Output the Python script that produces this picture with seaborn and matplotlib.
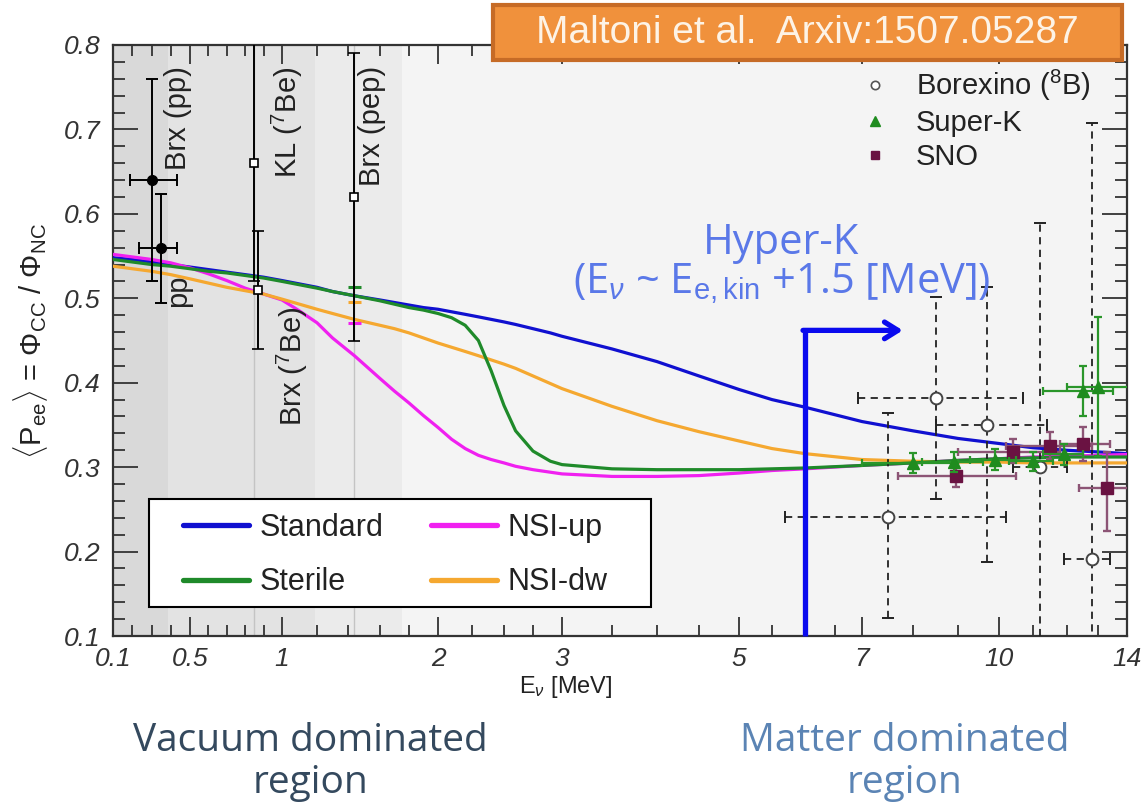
import numpy as np
import pandas as pd
import matplotlib
matplotlib.use("Agg")
import matplotlib.pyplot as plt
import seaborn as sns
from matplotlib.lines import Line2D
from matplotlib.patches import Rectangle

# ---------------- theory curves: <Pee> versus neutrino energy ----------------
energy = [0.1, 0.2, 0.3, 0.4, 0.5, 0.6, 0.7, 0.8, 0.9, 1.0, 1.1, 1.2, 1.3, 1.44,
          1.6, 1.7, 1.8, 1.9, 2.0, 2.1, 2.2, 2.3, 2.4, 2.5, 2.6, 2.75, 2.9, 3.0,
          3.5, 4.0, 4.5, 5.0, 5.5, 6.0, 7.0, 8.0, 9.0, 10.0, 11.0, 12.0, 13.0, 14.0]
p_standard = [0.548, 0.546, 0.543, 0.540, 0.537, 0.534, 0.531, 0.528, 0.525, 0.521,
              0.517, 0.513, 0.508, 0.503, 0.498, 0.495, 0.492, 0.489, 0.487, 0.484,
              0.481, 0.478, 0.475, 0.472, 0.469, 0.464, 0.459, 0.455, 0.440, 0.425,
              0.408, 0.392, 0.380, 0.371, 0.354, 0.343, 0.334, 0.328, 0.323, 0.320,
              0.318, 0.316]
p_sterile = [0.546, 0.543, 0.540, 0.538, 0.535, 0.532, 0.530, 0.527, 0.524, 0.520,
             0.516, 0.512, 0.508, 0.503, 0.497, 0.493, 0.489, 0.486, 0.482, 0.477,
             0.468, 0.450, 0.414, 0.373, 0.343, 0.319, 0.307, 0.303, 0.298, 0.297,
             0.297, 0.297, 0.298, 0.299, 0.302, 0.305, 0.308, 0.310, 0.311, 0.312,
             0.312, 0.312]
p_nsi_up = [0.552, 0.549, 0.546, 0.542, 0.536, 0.529, 0.521, 0.512, 0.505, 0.498,
            0.485, 0.471, 0.453, 0.432, 0.405, 0.390, 0.376, 0.361, 0.347, 0.333,
            0.322, 0.314, 0.309, 0.305, 0.301, 0.297, 0.294, 0.292, 0.289, 0.289,
            0.290, 0.293, 0.296, 0.298, 0.302, 0.305, 0.308, 0.310, 0.312, 0.313,
            0.314, 0.315]
p_nsi_dw = [0.538, 0.535, 0.532, 0.528, 0.523, 0.518, 0.513, 0.509, 0.505, 0.499,
            0.493, 0.487, 0.482, 0.475, 0.468, 0.464, 0.459, 0.453, 0.447, 0.442,
            0.437, 0.432, 0.427, 0.422, 0.417, 0.408, 0.399, 0.393, 0.372, 0.355,
            0.342, 0.331, 0.322, 0.316, 0.309, 0.307, 0.306, 0.306, 0.305, 0.305,
            0.305, 0.305]

model_names = ["Standard", "NSI-up", "NSI-dw", "Sterile"]
model_colors = {"Standard": "#1010d0", "Sterile": "#1f8a2a",
                "NSI-up": "#f020f0", "NSI-dw": "#f5a830"}

# curve averages over the pep line
pep_avg_models = ["Sterile", "NSI-dw", "NSI-up"]
pep_avg_values = [0.513, 0.496, 0.471]

# ---------------- low-energy measurements ----------------
pp_E = [0.30, 0.35]
pp_P = [0.64, 0.56]
pp_E_lo = [0.19, 0.235]
pp_E_hi = [0.43, 0.43]
pp_P_lo = [0.52, 0.495]
pp_P_hi = [0.76, 0.624]

be7_E = [0.85, 0.87]          # KamLAND, Borexino
be7_P = [0.66, 0.51]
be7_P_lo = [0.52, 0.44]
be7_P_hi = [0.86, 0.58]

pep_E = [1.44]
pep_P = [0.62]
pep_P_lo = [0.45]
pep_P_hi = [0.79]

# ---------------- 8B measurements ----------------
brx_E = [7.5, 8.5, 9.7, 11.2, 12.8]
brx_P = [0.241, 0.382, 0.350, 0.300, 0.191]
brx_E_lo = [5.7, 6.93, 8.5, 10.4, 11.9]
brx_E_hi = [10.2, 10.7, 11.4, 12.0, 13.4]
brx_P_lo = [0.121, 0.262, 0.188, 0.010, 0.000]
brx_P_hi = [0.364, 0.502, 0.513, 0.589, 0.708]

sk_E = [8.0, 8.9, 9.9, 11.0, 11.9, 12.5, 13.0]
sk_P = [0.305, 0.306, 0.309, 0.307, 0.315, 0.390, 0.395]
sk_E_lo = [7.0, 8.2, 9.3, 10.3, 11.3, 11.3, 12.0]
sk_E_hi = [9.0, 9.6, 10.5, 11.6, 12.5, 13.5, 14.5]
sk_P_lo = [0.293, 0.294, 0.297, 0.296, 0.303, 0.360, 0.313]
sk_P_hi = [0.317, 0.318, 0.321, 0.318, 0.327, 0.420, 0.478]

sno_E = [8.95, 10.4, 11.5, 12.5, 13.3]
sno_P = [0.290, 0.318, 0.325, 0.327, 0.275]
sno_E_lo = [7.7, 9.0, 10.2, 11.8, 12.4]
sno_E_hi = [10.5, 11.8, 12.8, 13.4, 14.5]
sno_P_lo = [0.277, 0.305, 0.310, 0.307, 0.224]
sno_P_hi = [0.306, 0.333, 0.342, 0.347, 0.318]

hyperk_threshold = 6.0
hyperk_arrow_level = 0.462
hyperk_arrow_end = 7.8

# energy bands of the low-energy sources
band_edges = [0.1, 0.386, 1.19, 1.75]
band_colors = ["#d9d9d9", "#e3e3e3", "#ebebeb"]

# ---------------- energy axis: compressed non-uniform scale ----------------
_knot_E = np.array([-10.0, 0.1, 0.5, 1.0, 1.2, 1.4, 1.6, 1.8, 2.0, 2.25, 2.5, 2.75,
                    3.0, 3.5, 4.0, 4.5, 5.0, 5.5, 6.0, 6.5, 7.0, 8.0, 9.0, 10.0,
                    11.0, 12.0, 13.0, 14.0, 40.0])
_knot_u = np.array([113 - 10.1 * 192.5, 113, 190, 282, 317, 348, 380, 409, 438, 472,
                    504, 533, 562, 612, 657, 699, 739, 772, 805, 835, 862, 913,
                    958, 999, 1033, 1067, 1098, 1127, 1127 + 26 * 29.0])


def _fwd(e):
    return np.interp(np.asarray(e, dtype=float), _knot_E, _knot_u)


def _inv(u):
    return np.interp(np.asarray(u, dtype=float), _knot_u, _knot_E)


sns.set_theme(style="ticks")
plt.rcParams["font.family"] = ["Liberation Sans", "DejaVu Sans"]
plt.rcParams["mathtext.fontset"] = "custom"
plt.rcParams["mathtext.rm"] = "Liberation Sans"
plt.rcParams["mathtext.it"] = "Liberation Sans:italic"
plt.rcParams["mathtext.bf"] = "Liberation Sans:bold"

W, H = 1144, 809
fig = plt.figure(figsize=(W / 100, H / 100), dpi=100)
fig.patch.set_facecolor("white")
ax = fig.add_axes([113 / W, 1 - 636 / H, 1014 / W, 591 / H])
ax.set_xscale("function", functions=(_fwd, _inv))
ax.set_xlim(0.1, 14)
ax.set_ylim(0.1, 0.8)
ax.set_facecolor("#f4f4f4")

# source bands and reference lines
for lo, hi, c in zip(band_edges[:-1], band_edges[1:], band_colors):
    ax.axvspan(lo, hi, color=c, lw=0, zorder=0)
for e in [be7_E[0], pep_E[0]]:
    ax.axvline(e, color="#c4c4c4", lw=1.0, zorder=0.5)

# theory curves
df = pd.DataFrame({
    "E": energy * 4,
    "Pee": p_standard + p_nsi_up + p_nsi_dw + p_sterile,
    "model": sum([[m] * len(energy) for m in model_names], []),
})
sns.lineplot(data=df, x="E", y="Pee", hue="model", hue_order=model_names,
             palette=model_colors, linewidth=2.3, sort=False, estimator=None,
             legend=False, ax=ax, zorder=3)

for m, v in zip(pep_avg_models, pep_avg_values):
    ax.hlines(v, 1.40, 1.48, color=model_colors[m], lw=2.2, zorder=3.5)


def _err(c, lo, hi):
    c = np.asarray(c)
    return [c - np.asarray(lo), np.asarray(hi) - c]


# pp (filled), 7Be and pep (open squares)
ax.errorbar(pp_E, pp_P, xerr=_err(pp_E, pp_E_lo, pp_E_hi),
            yerr=_err(pp_P, pp_P_lo, pp_P_hi), fmt="o", color="black",
            ms=7, elinewidth=1.4, capsize=4, capthick=1.4, zorder=5)
ax.errorbar(be7_E, be7_P, yerr=_err(be7_P, be7_P_lo, be7_P_hi), fmt="s",
            mfc="white", mec="black", ecolor="black", ms=6, mew=1.2,
            elinewidth=1.4, capsize=4, capthick=1.4, zorder=5)
ax.errorbar(pep_E, pep_P, yerr=_err(pep_P, pep_P_lo, pep_P_hi), fmt="s",
            mfc="white", mec="black", ecolor="black", ms=6, mew=1.2,
            elinewidth=1.4, capsize=4, capthick=1.4, zorder=5)

# 8B data
brx = ax.errorbar(brx_E, brx_P, xerr=_err(brx_E, brx_E_lo, brx_E_hi),
                  yerr=_err(brx_P, brx_P_lo, brx_P_hi), fmt="o", mfc="white",
                  mec="#444444", ecolor="#222222", ms=8.5, mew=1.4,
                  elinewidth=1.3, capsize=4, capthick=1.3, zorder=4)
for lc in brx[2]:
    lc.set_linestyle((0, (4, 3)))
sno = ax.errorbar(sno_E, sno_P, xerr=_err(sno_E, sno_E_lo, sno_E_hi),
                  yerr=_err(sno_P, sno_P_lo, sno_P_hi), fmt="s",
                  color="#6a1242", ecolor="#8c5475", ms=8,
                  elinewidth=1.7, capsize=3, capthick=1.7, zorder=5)
sk = ax.errorbar(sk_E, sk_P, xerr=_err(sk_E, sk_E_lo, sk_E_hi),
                 yerr=_err(sk_P, sk_P_lo, sk_P_hi), fmt="^",
                 color="#1f8c1f", ecolor="#2a962a", ms=9,
                 elinewidth=1.6, capsize=3, capthick=1.6, zorder=6)

# Hyper-K threshold arrow
ax.plot([hyperk_threshold, hyperk_threshold], [0.1, hyperk_arrow_level],
        color="#0a0aee", lw=3.8, solid_capstyle="butt", zorder=7, clip_on=False)
ax.annotate("", xy=(hyperk_arrow_end, hyperk_arrow_level),
            xytext=(hyperk_threshold - 0.03, hyperk_arrow_level),
            arrowprops=dict(arrowstyle="->,head_length=0.8,head_width=0.5",
                            color="#0a0aee", lw=3.8, shrinkA=0, shrinkB=0),
            zorder=7)
ax.text(0.659, 0.665, "Hyper-K", transform=ax.transAxes, ha="center",
        va="center", fontsize=30, color="#5a78e8", family="Open Sans", zorder=8)
ax.text(0.660, 0.597, r"(E$_{\nu}$ ~ E$_{\rm e,kin}$ +1.5 [MeV])",
        transform=ax.transAxes, ha="center", va="center", fontsize=30,
        color="#5a78e8", family="Open Sans", zorder=8)

# rotated source labels
lab_kw = dict(rotation=90, ha="center", va="top", fontsize=21, color="#222222",
              zorder=6)
ax.text(0.438, 0.775, "Brx (pp)", **lab_kw)
ax.text(0.438, 0.528, "pp", **lab_kw)
ax.text(1.03, 0.775, r"KL ($^{7}$Be)", **lab_kw)
ax.text(1.057, 0.49, r"Brx ($^{7}$Be)", **lab_kw)
ax.text(1.55, 0.775, "Brx (pep)", **lab_kw)

# axes, ticks
major = [0.1, 0.5, 1, 2, 3, 5, 7, 10, 14]
minor = [0.2, 0.3, 0.4, 0.6, 0.7, 0.8, 0.9, 1.2, 1.4, 1.6, 1.8, 2.25, 2.5, 2.75,
         3.5, 4, 4.5, 5.5, 6, 6.5, 8, 9, 11, 12, 13]
ax.set_xticks(major)
ax.set_xticklabels(["0.1", "0.5", "1", "2", "3", "5", "7", "10", "14"])
ax.set_xticks(minor, minor=True)
ax.set_yticks(np.round(np.arange(0.1, 0.81, 0.1), 1))
ax.set_yticklabels([f"{v:.1f}" for v in np.arange(0.1, 0.81, 0.1)])
ax.set_yticks(np.round(np.arange(0.1, 0.8, 0.02), 2), minor=True)
ax.tick_params(which="both", direction="in", top=True, right=True,
               color="#333333", width=1.3, labelsize=19, labelcolor="#333333")
ax.tick_params(axis="x", which="major", length=14, pad=8)
ax.tick_params(axis="x", which="minor", length=8)
ax.tick_params(axis="y", which="major", length=18, pad=9)
ax.tick_params(axis="y", which="minor", length=8.5)
for lbl in ax.get_xticklabels() + ax.get_yticklabels():
    lbl.set_fontstyle("italic")
for s in ax.spines.values():
    s.set_color("#333333")
    s.set_linewidth(1.6)

ax.set_xlabel(r"E$_{\nu}$ [MeV]", fontsize=17, color="#222222")
ax.xaxis.set_label_coords(0.446, -0.064)
ax.set_ylabel(r"$\langle$P$_{\rm ee}\rangle$ = $\Phi_{\rm CC}$ / $\Phi_{\rm NC}$",
              fontsize=21, color="#222222")
ax.yaxis.set_label_coords(-0.062, 0.5)

# model legend: white box with the entries laid out inside it
ax.add_patch(Rectangle((36 / 1014, 29 / 591), 502 / 1014, 108 / 591,
                       transform=ax.transAxes, facecolor="white",
                       edgecolor="black", lw=1.5, zorder=8))
model_handles = [Line2D([], [], color=model_colors[m], lw=3.8)
                 for m in ["Standard", "Sterile", "NSI-up", "NSI-dw"]]
leg1 = ax.legend(model_handles, ["Standard", "Sterile", "NSI-up", "NSI-dw"],
                 ncol=2, loc="upper left", bbox_to_anchor=(70 / 1014, 123 / 591),
                 borderaxespad=0, borderpad=0, fontsize=22, handlelength=2.15,
                 handletextpad=0.36, columnspacing=1.55, labelspacing=0.8,
                 frameon=False)
leg1.set_zorder(9)
for t in leg1.get_texts():
    t.set_color("#222222")
ax.add_artist(leg1)

data_handles = [
    Line2D([], [], marker="o", ls="none", mfc="white", mec="#555555", ms=6, mew=1.2),
    Line2D([], [], marker="^", ls="none", color="#1f8c1f", ms=7),
    Line2D([], [], marker="s", ls="none", color="#6a1242", ms=6),
]
leg2 = ax.legend(data_handles, [r"Borexino ($^{8}$B)", "Super-K", "SNO"],
                 loc="upper left", bbox_to_anchor=(0.723, 0.981),
                 borderaxespad=0, fontsize=21, frameon=False,
                 handletextpad=0.8, labelspacing=0.2, handlelength=1.2)
for t in leg2.get_texts():
    t.set_color("#222222")

# citation banner
fig.patches.append(Rectangle((493 / W, 1 - 60 / H), 629 / W, 55 / H,
                             transform=fig.transFigure, facecolor="#f0913c",
                             edgecolor="#c66b26", lw=3, zorder=10))
fig.text(807 / W, 1 - 33 / H, "Maltoni et al.  Arxiv:1507.05287", ha="center",
         va="center", fontsize=28, color="#fdf3e6", zorder=11)

# region captions
fig.text(310 / W, 1 - 762 / H, "Vacuum dominated\nregion", ha="center",
         va="center", fontsize=28, color="#34495e", linespacing=1.15,
         family="Open Sans")
fig.text(905 / W, 1 - 762 / H, "Matter dominated\nregion", ha="center",
         va="center", fontsize=28, color="#5b84b4", linespacing=1.15,
         family="Open Sans")

fig.savefig("out.png", dpi=100, facecolor="white")
